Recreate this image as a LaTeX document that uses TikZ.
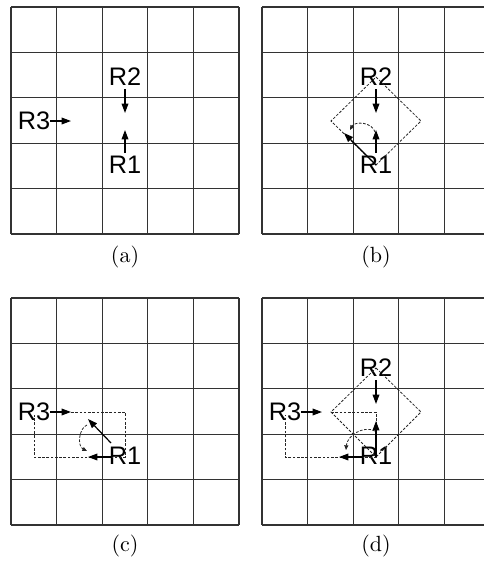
\documentclass[tikz,border=0pt]{standalone}
\usepackage{fontspec}
\newfontfamily\arialfont{Liberation Sans}
\usetikzlibrary{arrows.meta}
\newcommand\panelgrid{%
  \foreach \i in {0,...,5}{%
    \draw[gridline] ({11+\i*45.6},7) -- ({11+\i*45.6},234);
    \draw[gridline] (11,{7+\i*45.4}) -- (239,{7+\i*45.4});
  }}
\newcommand\captxt[1]{\scalebox{1.65}{\fontsize{10}{12}\selectfont #1}}
\begin{document}
\begin{tikzpicture}[x=0.75pt,y=-0.75pt,
  gridline/.style={black!80,line width=0.8pt},
  lbl/.style={font=\arialfont\fontsize{19}{21}\selectfont,inner sep=0pt,anchor=center},
  captext/.style={inner sep=0pt},
  move/.style={line width=0.9pt,-{Triangle[length=7pt,width=5pt]}},
  dpath/.style={black!85,line width=0.6pt,dash pattern=on 2pt off 1.2pt},
  rot/.style={dpath,-{Triangle[length=3.5pt,width=3pt]}}]
\useasboundingbox (0,0) rectangle (484,561);
\clip (0,0) rectangle (484,561);

% ---------- (a)
\begin{scope}
\panelgrid
\node[lbl] (aR2) at (125,77) {R2};
\node[lbl] (aR1) at (125,165) {R1};
\node[lbl] (aR3) at (34,121) {R3};
\coordinate (aR2s) at (125,89);
\coordinate (aR2e) at (125,113);
\coordinate (aR1s) at (125,153);
\coordinate (aR1e) at (125,130);
\coordinate (aR3e) at (71,121);
\draw[move] (aR2s) -- (aR2e);
\draw[move] (aR1s) -- (aR1e);
\draw[move] (aR3.east) -- (aR3e);
\node[captext] (acap) at (125,257) {\captxt{(a)}};
\end{scope}

% ---------- (b)
\begin{scope}[shift={(251,0)}]
\panelgrid
\node[lbl] (bR2) at (125,77) {R2};
\node[lbl] (bR1) at (125,165) {R1};
\coordinate (bR2s) at (125,89);
\coordinate (bR2e) at (125,113);
\coordinate (bR1s) at (125,153);
\coordinate (bR1e) at (125,130);
\coordinate (bL) at (80,121);
\coordinate (bR) at (170,121);
\draw[dpath] (bR2.center) -- (bR) -- (bR1.center) -- (bL) -- cycle;
\draw[move] (bR2s) -- (bR2e);
\draw[move] (bR1s) -- (bR1e);
\coordinate (bDt) at (93,133);
\draw[move] (bR1.center) -- (bDt);
\coordinate (bA1) at (124,132);
\coordinate (bA2) at (99,130);
\draw[rot] (bA1) .. controls (121,122) and (104,121) .. (bA2);
\node[captext] (bcap) at (125,257) {\captxt{(b)}};
\end{scope}

% ---------- (c)
\begin{scope}[shift={(0,291)}]
\panelgrid
\node[lbl] (cR3) at (34,121) {R3};
\node[lbl] (cR1) at (125,165) {R1};
\coordinate (cR3e) at (71,121);
\coordinate (cTR) at (125,121);
\coordinate (cBL) at (34,166);
\coordinate (cBR) at (125,166);
\coordinate (cR3b) at (34,124);
\draw[dpath] (cR3e) -- (cTR) -- (cBR) -- (cBL) -- (cR3b);
\draw[move] (cR3.east) -- (cR3e);
\coordinate (cDs) at (111,152);
\coordinate (cDt) at (88,128);
\draw[move] (cDs) -- (cDt);
\coordinate (cLs) at (112,166);
\coordinate (cLt) at (88,166);
\draw[move] (cLs) -- (cLt);
\coordinate (cA1) at (87,134);
\coordinate (cA2) at (87,160);
\draw[rot] (cA1) .. controls (79,137) and (77,155) .. (cA2);
\node[captext] (ccap) at (125,255) {\captxt{(c)}};
\end{scope}

% ---------- (d)
\begin{scope}[shift={(251,291)}]
\panelgrid
\node[lbl] (dR2) at (125,77) {R2};
\node[lbl] (dR1) at (125,165) {R1};
\node[lbl] (dR3) at (34,121) {R3};
\coordinate (dR2s) at (125,89);
\coordinate (dR2e) at (125,113);
\coordinate (dR3e) at (71,121);
\coordinate (dL) at (80,121);
\coordinate (dR) at (170,121);
\coordinate (dTR) at (125,121);
\coordinate (dBR) at (125,166);
\coordinate (dBL) at (34,166);
\coordinate (dR3b) at (34,124);
\draw[dpath] (dR2.center) -- (dR) -- (dBR) -- (dL) -- cycle;
\draw[dpath] (dL) -- (dTR) -- (dBR) -- (dBL) -- (dR3b);
\draw[move] (dR2s) -- (dR2e);
\draw[move] (dR3.east) -- (dR3e);
\coordinate (dR1e) at (125,130);
\draw[move] (dBR) -- (dR1e);
\coordinate (dLs) at (112,166);
\coordinate (dLt) at (88,166);
\draw[move] (dLs) -- (dLt);
\coordinate (dA1) at (124,140);
\coordinate (dA2) at (95,159);
\draw[rot] (dA1) .. controls (112,134) and (96,145) .. (dA2);
\node[captext] (dcap) at (125,255) {\captxt{(d)}};
\end{scope}
\end{tikzpicture}
\end{document}
